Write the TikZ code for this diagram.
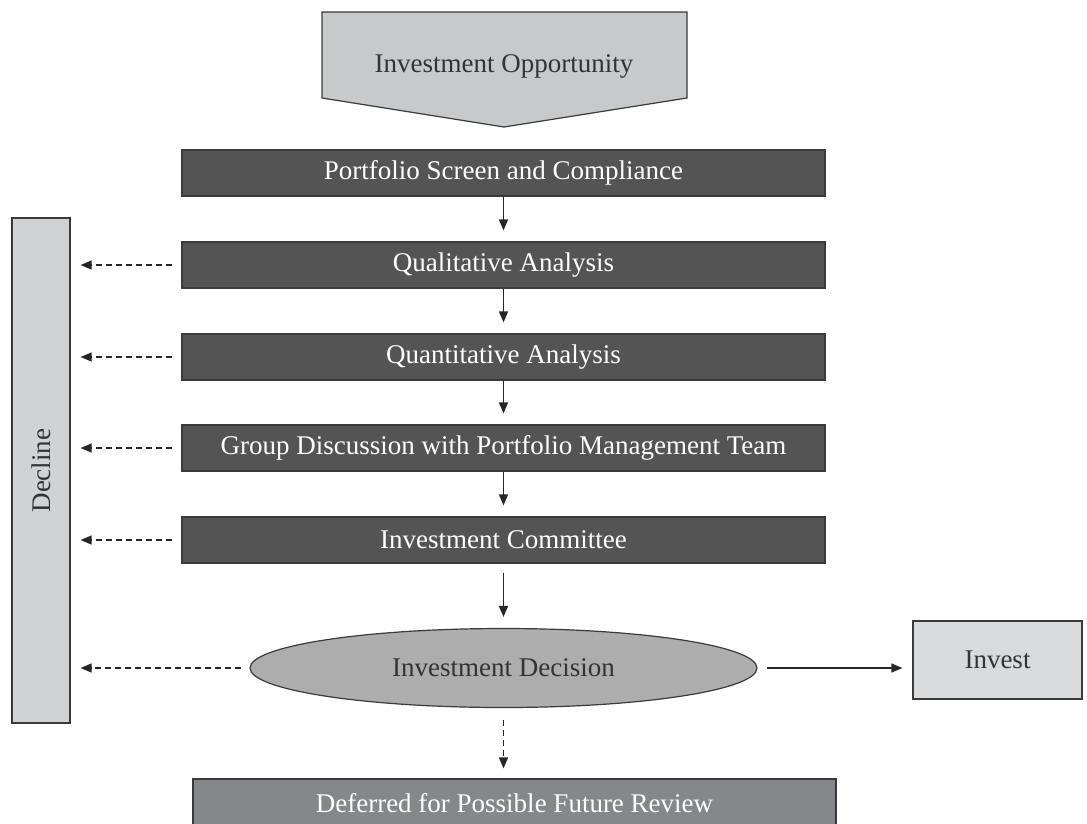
\documentclass[tikz,border=0pt]{standalone}
\usepackage{fontspec}
\setmainfont{Liberation Serif}
\usetikzlibrary{positioning,arrows.meta,shapes,calc}
\definecolor{stepdark}{HTML}{545454}
\definecolor{banner}{HTML}{C8C9CB}
\definecolor{sidebox}{HTML}{D1D2D4}
\definecolor{investbox}{HTML}{D9DADC}
\definecolor{decision}{HTML}{ADADAD}
\definecolor{deferbox}{HTML}{86878A}
\definecolor{inkgray}{HTML}{3A3A3A}

\begin{document}
\begin{tikzpicture}[
  x=1pt, y=-1pt,
  font=\fontsize{27}{31}\selectfont,
  stage/.style={draw=inkgray, fill=stepdark, text=white, line width=1.2pt,
                minimum width=643pt, minimum height=46pt, inner sep=0pt},
  flow/.style={line width=1.4pt, draw=black!85, -{Triangle[length=11pt,width=9pt]}},
  back/.style={flow, dashed, dash pattern=on 6pt off 4pt}
]
  \useasboundingbox (0,0) rectangle (1087,823);
  \clip (0,0) rectangle (1087,823);

  % Opening banner
  \draw[draw=inkgray, fill=banner, line width=1.2pt]
    (322,12) -- (687,12) -- (687,98) -- (504,127) -- (322,98) -- cycle;
  \node[text=black!80] (opp) at (504,66) {Investment Opportunity};

  % Stages
  \node[stage] (b1) at (503.5,173) {Portfolio Screen and Compliance};
  \node[stage] (b2) at (503.5,265) {Qualitative Analysis};
  \node[stage] (b3) at (503.5,357) {Quantitative Analysis};
  \node[stage] (b4) at (503.5,448) {Group Discussion with Portfolio Management Team};
  \node[stage] (b5) at (503.5,540) {Investment Committee};

  % Outcomes
  \node[draw=inkgray, fill=sidebox, line width=1.2pt, minimum width=58pt,
        minimum height=505pt, inner sep=0pt, text=black!80] (dec) at (41,470.5)
        {\rotatebox{90}{Decline}};
  \node[ellipse, draw=inkgray, fill=decision, line width=1.2pt, minimum width=507pt,
        minimum height=79pt, inner sep=0pt, text=black!80] (choice) at (503.5,668)
        {Investment Decision};
  \node[draw=inkgray, fill=investbox, line width=1.2pt, minimum width=169pt,
        minimum height=78pt, inner sep=0pt, text=black!80] (inv) at (997.5,660)
        {Invest};
  \node[draw=inkgray, fill=deferbox, text=white, line width=1.2pt, minimum width=643pt,
        minimum height=48pt, inner sep=0pt] (defer) at (514.5,803)
        {Deferred for Possible Future Review};

  % Forward arrows
  \foreach \a/\b in {b1/b2, b2/b3, b3/b4, b4/b5}
    \draw[flow, shorten >=11pt] (\a) -- (\b);
  \draw[flow, shorten <=9pt, shorten >=11pt] (b5) -- (choice);
  \draw[flow, shorten <=9pt, shorten >=10pt] (choice.east) -- (choice.east -| inv.west);
  \draw[back, shorten <=12pt, shorten >=10pt] (choice.south) -- (choice.south |- defer.north);

  % Declined
  \foreach \s in {b2,b3,b4,b5}
    \draw[back, shorten <=9pt, shorten >=10pt] (\s.west) -- (\s.west -| dec.east);
  \draw[back, shorten <=8pt, shorten >=10pt] (choice.west) -- (choice.west -| dec.east);
\end{tikzpicture}
\end{document}
